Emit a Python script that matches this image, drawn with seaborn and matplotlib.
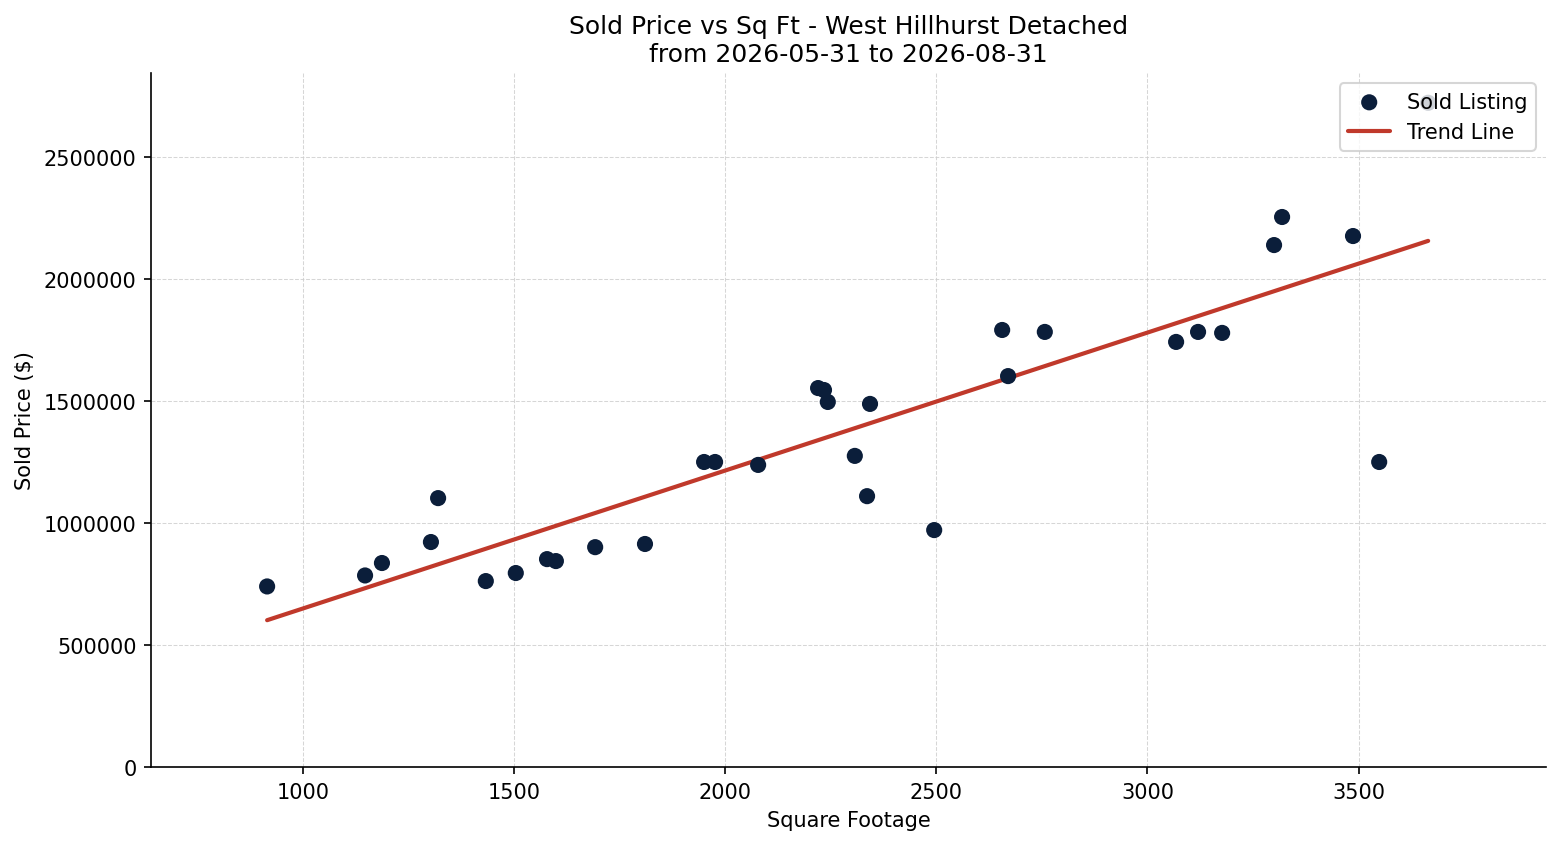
import numpy as np
import pandas as pd
import matplotlib
matplotlib.use("Agg")
import matplotlib.pyplot as plt
import seaborn as sns

title = "Sold Price vs Sq Ft - West Hillhurst Detached\nfrom 2026-05-31 to 2026-08-31"
sqft = [915, 1147, 1187, 1303, 1320, 1433, 1504, 1578, 1599, 1692, 1810,
        1950, 1976, 2078, 2220, 2234, 2243, 2307, 2336, 2343, 2495,
        2656, 2670, 2757, 3068, 3120, 3177, 3300, 3319, 3487, 3549, 3665]
price = [740000, 785000, 836000, 922000, 1102000, 762000, 795000, 852000, 844000,
         901000, 914000, 1250000, 1250000, 1238000, 1553000, 1545000, 1496000,
         1275000, 1110000, 1488000, 971000, 1791000, 1602000, 1783000, 1742000,
         1783000, 1779000, 2139000, 2254000, 2176000, 1250000, 2722000]

df = pd.DataFrame({"sqft": sqft, "price": price})

sns.set_theme(style="ticks", rc={
    "axes.edgecolor": "black", "axes.linewidth": 0.8,
    "xtick.color": "black", "ytick.color": "black",
    "xtick.major.width": 0.8, "ytick.major.width": 0.8,
    "xtick.major.size": 3.5, "ytick.major.size": 3.5,
    "text.color": "black", "axes.labelcolor": "black",
})
plt.rcParams['font.family'] = ['DejaVu Sans']

fig, ax = plt.subplots(figsize=(10.4, 5.6333), dpi=150)
fig.subplots_adjust(left=0.0968, right=0.991, top=0.9124, bottom=0.0911)

sns.scatterplot(data=df, x="sqft", y="price", ax=ax, color="#0b1e3a", s=60,
                edgecolor="none", label="Sold Listing", zorder=3)
sns.regplot(data=df, x="sqft", y="price", ax=ax, scatter=False, ci=None,
            color="#c0392b", line_kws={"linewidth": 2}, label="Trend Line")

ax.set_xlim(640, 3944)
ax.set_ylim(0, 2844000)
ax.ticklabel_format(style="plain", axis="y")
ax.grid(True, linestyle="--", linewidth=0.5, color="#cccccc", alpha=0.8)
ax.set_axisbelow(True)
sns.despine(ax=ax)
ax.tick_params(labelsize=10)
ax.set_xlabel("Square Footage", fontsize=10)
ax.set_ylabel("Sold Price ($)", fontsize=10)
ax.set_title(title, fontsize=12)
leg = ax.legend(loc="upper right", fontsize=10, framealpha=0.8)
leg.get_frame().set_edgecolor("#cccccc")

fig.savefig("out.png", dpi=150)
